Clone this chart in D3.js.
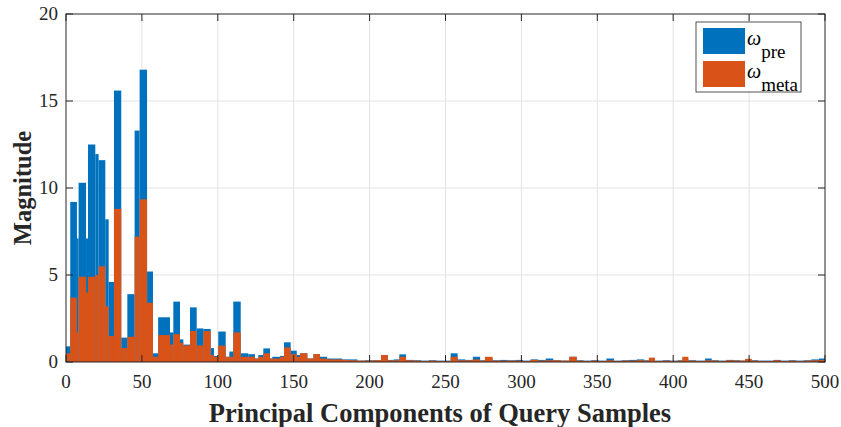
<!DOCTYPE html>
<html>
<head>
<meta charset="utf-8">
<script src="https://cdn.jsdelivr.net/npm/d3@7"></script>
<style>
  body { margin: 0; background: #fff; }
  text { font-family: "Liberation Serif", "DejaVu Serif", serif; }
</style>
</head>
<body>
<div id="chart"></div>
<script>
var chart_width  = 841;
var chart_height = 427;
var margin = {left: 66, right: 16, top: 14, bottom: 65};

// bin start (component index), the last bin ends at 500
var binStart = [0, 2.8, 7.2, 8.3, 13.2, 14.5, 19.3, 21.5, 25.9, 28.1,
  31.6, 36.4, 40.4, 45.2, 48.5, 53.4, 57.3, 60.7, 68.5, 70.7,
  75.1, 77.3, 81.7, 86.1, 90.5, 95.3, 97.5, 100.3, 105.2, 107.6,
  110.2, 115.1, 120.1, 124.5, 126.7, 130, 134.4, 135.9, 141, 143.6,
  148, 152, 154.2, 159, 163, 167.3, 172, 177, 182, 187,
  192, 197, 202, 207.5, 212, 216, 219.6, 224, 229, 234,
  239, 244, 249, 253.4, 258, 263, 268, 272.8, 276, 281,
  286, 291, 296, 301, 306, 311, 316, 321, 326, 331.6,
  336.4, 341, 346, 351, 356, 361, 366, 371, 376, 381,
  384, 388, 393, 398, 403, 406, 410, 415, 421, 425.4,
  430, 435, 440, 444, 447.4, 451.7, 456, 461, 466, 471,
  476, 481, 486, 491, 496];

var omegaPre = [0.9, 9.2, 7.1, 10.3, 7.1, 12.5, 11.95, 11.6, 8.2, 4.6,
  15.6, 1.4, 3.9, 13.3, 16.8, 5.2, 0.5, 2.57, 1.7, 3.47,
  1.3, 1.0, 3.14, 1.93, 1.9, 0.8, 0.35, 1.75, 0.3, 0.6,
  3.47, 0.5, 0.45, 0.2, 0.4, 0.78, 0.2, 0.3, 0.35, 1.13,
  0.65, 0.4, 0.5, 0.2, 0.45, 0.3, 0.2, 0.2, 0.15, 0.15,
  0.08, 0.1, 0.1, 0.4, 0.12, 0.15, 0.44, 0.12, 0.1, 0.08,
  0.1, 0.08, 0.08, 0.5, 0.15, 0.12, 0.3, 0.1, 0.2, 0.1,
  0.12, 0.1, 0.12, 0.08, 0.15, 0.12, 0.2, 0.1, 0.08, 0.3,
  0.1, 0.08, 0.1, 0.08, 0.2, 0.08, 0.1, 0.12, 0.15, 0.1,
  0.2, 0.08, 0.1, 0.08, 0.1, 0.15, 0.1, 0.08, 0.2, 0.1,
  0.08, 0.12, 0.1, 0.08, 0.15, 0.1, 0.08, 0.08, 0.12, 0.08,
  0.1, 0.08, 0.1, 0.15, 0.2];

var omegaMeta = [0.5, 3.7, 1.7, 4.9, 4.0, 4.9, 5.0, 5.5, 3.2, 1.5,
  8.8, 0.8, 1.45, 7.2, 9.35, 3.4, 0.3, 1.55, 1.0, 1.6,
  1.1, 0.95, 1.78, 0.95, 1.78, 0.4, 0.3, 0.94, 0.3, 0.3,
  1.7, 0.3, 0.3, 0.2, 0.3, 0.5, 0.2, 0.2, 0.3, 0.84,
  0.45, 0.3, 0.5, 0.2, 0.45, 0.2, 0.15, 0.15, 0.12, 0.1,
  0.08, 0.08, 0.1, 0.4, 0.1, 0.1, 0.3, 0.1, 0.08, 0.06,
  0.08, 0.06, 0.06, 0.3, 0.1, 0.1, 0.15, 0.08, 0.3, 0.08,
  0.08, 0.08, 0.08, 0.06, 0.12, 0.08, 0.1, 0.1, 0.08, 0.3,
  0.08, 0.06, 0.08, 0.06, 0.1, 0.06, 0.08, 0.08, 0.1, 0.08,
  0.25, 0.06, 0.08, 0.06, 0.08, 0.3, 0.08, 0.06, 0.1, 0.08,
  0.06, 0.1, 0.08, 0.08, 0.18, 0.08, 0.06, 0.06, 0.1, 0.06,
  0.08, 0.06, 0.08, 0.1, 0.12];

var xTicks = [0, 50, 100, 150, 200, 250, 300, 350, 400, 450, 500];
var yTicks = [0, 5, 10, 15, 20];

var seriesNames = ["pre", "meta"];
var seriesColors = ["#0072BD", "#D95319"];

var x = d3.scaleLinear().domain([0, 500]).range([margin.left, chart_width - margin.right]);
var y = d3.scaleLinear().domain([0, 20]).range([chart_height - margin.bottom, margin.top]);

var svg = d3.select("#chart")
    .append("svg")
    .attr("width", chart_width)
    .attr("height", chart_height);

// grid
svg.append("g").selectAll("line.gx")
  .data(xTicks.slice(1, -1))
  .enter().append("line")
  .attr("x1", d => x(d)).attr("x2", d => x(d))
  .attr("y1", y(0)).attr("y2", y(20))
  .attr("stroke", "#e3e3e3").attr("stroke-width", 1);
svg.append("g").selectAll("line.gy")
  .data(yTicks.slice(1, -1))
  .enter().append("line")
  .attr("x1", x(0)).attr("x2", x(500))
  .attr("y1", d => y(d)).attr("y2", d => y(d))
  .attr("stroke", "#e3e3e3").attr("stroke-width", 1);

// bars
var bins = binStart.map(function(s, i){
  return {x0: s, x1: i < binStart.length - 1 ? binStart[i + 1] : 500, pre: omegaPre[i], meta: omegaMeta[i]};
});

seriesNames.forEach(function(name, k){
  svg.append("g").selectAll("rect")
    .data(bins)
    .enter().append("rect")
    .attr("x", d => x(d.x0))
    .attr("width", d => Math.max(0.5, x(d.x1) - x(d.x0)))
    .attr("y", d => y(d[name]))
    .attr("height", d => y(0) - y(d[name]))
    .attr("fill", seriesColors[k]);
});

// box + ticks
var axisColor = "#262626";
svg.append("rect")
  .attr("x", x(0)).attr("y", y(20))
  .attr("width", x(500) - x(0)).attr("height", y(0) - y(20))
  .attr("fill", "none").attr("stroke", axisColor).attr("stroke-width", 1);

var tl = 7;
xTicks.forEach(function(t){
  svg.append("line").attr("x1", x(t)).attr("x2", x(t)).attr("y1", y(0)).attr("y2", y(0) - tl)
    .attr("stroke", axisColor);
  svg.append("line").attr("x1", x(t)).attr("x2", x(t)).attr("y1", y(20)).attr("y2", y(20) + tl)
    .attr("stroke", axisColor);
  svg.append("text").attr("x", x(t)).attr("y", y(0) + 26)
    .attr("text-anchor", "middle").attr("font-size", 19).attr("fill", axisColor)
    .text(t);
});
yTicks.forEach(function(t){
  svg.append("line").attr("x1", x(0)).attr("x2", x(0) + tl).attr("y1", y(t)).attr("y2", y(t))
    .attr("stroke", axisColor);
  svg.append("line").attr("x1", x(500)).attr("x2", x(500) - tl).attr("y1", y(t)).attr("y2", y(t))
    .attr("stroke", axisColor);
  svg.append("text").attr("x", x(0) - 8).attr("y", y(t) + 6)
    .attr("text-anchor", "end").attr("font-size", 19).attr("fill", axisColor)
    .text(t);
});

// axis labels
svg.append("text")
  .attr("x", 440).attr("y", 422)
  .attr("text-anchor", "middle").attr("font-size", 26.5).attr("font-weight", "bold")
  .attr("fill", axisColor)
  .text("Principal Components of Query Samples");
svg.append("text")
  .attr("transform", "translate(31," + ((y(0) + y(20)) / 2) + ") rotate(-90)")
  .attr("text-anchor", "middle").attr("font-size", 24.5).attr("font-weight", "bold")
  .attr("fill", axisColor)
  .text("Magnitude");

// legend
var lg = svg.append("g").attr("transform", "translate(696,22)");
lg.append("rect").attr("width", 105).attr("height", 70)
  .attr("fill", "#fff").attr("stroke", axisColor).attr("stroke-width", 0.8);
seriesNames.forEach(function(name, k){
  lg.append("rect").attr("x", 7).attr("y", 6 + k * 33).attr("width", 42).attr("height", 26)
    .attr("fill", seriesColors[k]);
  var t = lg.append("text").attr("x", 51).attr("y", 23 + k * 33).attr("font-size", 20).attr("fill", "#000");
  t.append("tspan").attr("font-style", "italic").text("ω");
  t.append("tspan").attr("dy", 13).attr("font-size", 19).text(name);
});
</script>
</body>
</html>
